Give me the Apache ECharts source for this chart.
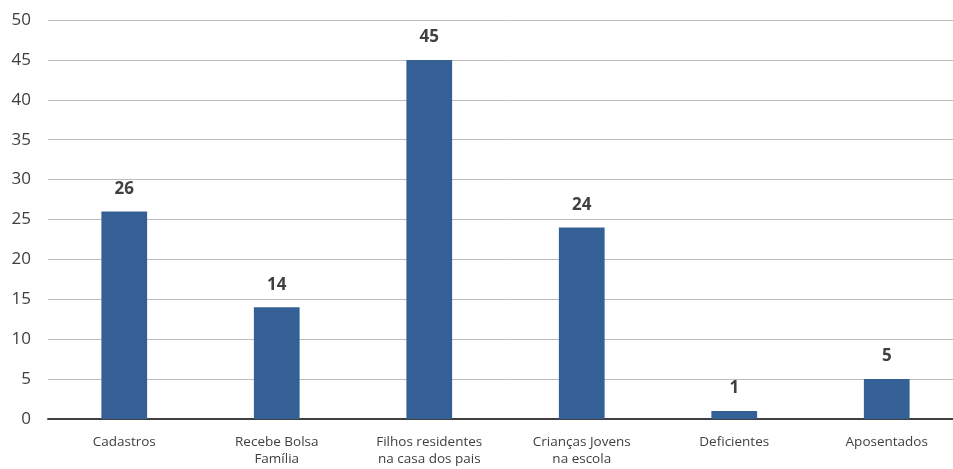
<!DOCTYPE html>
<html><head><meta charset="utf-8">
<script src="https://cdn.jsdelivr.net/npm/echarts@6/dist/echarts.min.js"></script>
<style>html,body{margin:0;padding:0;background:#fff;overflow:hidden}#c{width:975px;height:469px}</style>
</head><body><div id="c"></div>
<script>
var categories = ['Cadastros', 'Recebe Bolsa\nFamília', 'Filhos residentes\nna casa dos pais', 'Crianças Jovens\nna escola', 'Deficientes', 'Aposentados'];
var values = [26, 14, 45, 24, 1, 5];
var yTicks = { min: 0, max: 50, interval: 5 };

var chart = echarts.init(document.getElementById('c'), null, { renderer: 'canvas' });
chart.setOption({
  animation: false,
  textStyle: { fontFamily: '"Open Sans", "Noto Sans", sans-serif' },
  grid: { left: 48, right: 12, top: 20, bottom: 50, containLabel: false },
  xAxis: {
    type: 'category',
    data: categories,
    axisLine: { lineStyle: { color: '#404040', width: 2 } },
    axisTick: { show: false },
    axisLabel: { color: '#404040', fontSize: 13.5, lineHeight: 17, margin: 15, interval: 0 }
  },
  yAxis: {
    type: 'value',
    min: yTicks.min, max: yTicks.max, interval: yTicks.interval,
    axisLine: { show: false },
    axisTick: { show: false },
    axisLabel: { color: '#404040', fontSize: 17, margin: 17 },
    splitLine: { lineStyle: { color: '#bcbcbc', width: 1 } }
  },
  series: [{
    type: 'bar',
    data: values,
    barWidth: '30%',
    itemStyle: { color: '#356096' },
    label: { show: true, position: 'top', distance: 14, color: '#404040', fontSize: 17, fontWeight: 'bold' }
  }]
});
</script></body></html>
